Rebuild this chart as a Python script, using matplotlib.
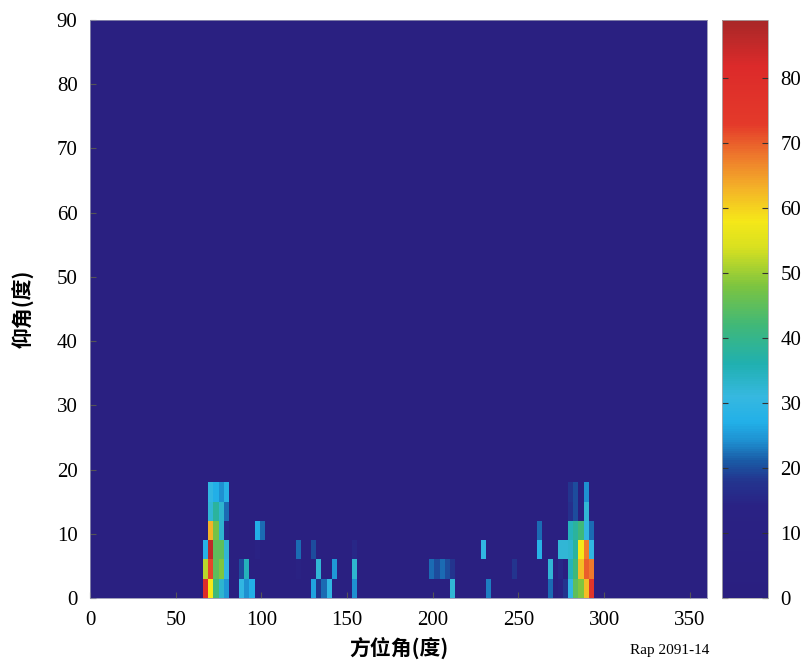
import numpy as np
import matplotlib
matplotlib.use('Agg')
import matplotlib.pyplot as plt
from matplotlib.colors import LinearSegmentedColormap

plt.rcParams['font.family'] = ['Liberation Serif', 'Noto Sans CJK SC']

# --- data: 3 degree bins in azimuth and elevation ---
AZ_STEP = 3
EL_STEP = 3
BACKGROUND = 4

# hot cells: (azimuth bin start, elevation bin start, value)
cell_az = [
    66, 69, 72, 75, 78,
    66, 69, 72, 75, 78,
    66, 69, 72, 75, 78,
    69, 72, 75, 78,
    69, 72, 75, 78,
    69, 72, 75, 78,
    87, 90, 93, 87, 90, 96, 99, 96,
    120, 120, 129, 129, 132, 132, 135, 138, 141, 153, 153, 153,
    198, 201, 204, 207, 210, 210, 228, 231, 246, 261, 261, 267, 267,
    273, 276, 279, 282, 285, 288, 291,
    273, 279, 282, 285, 288, 291,
    273, 276, 279, 282, 285, 288, 291,
    279, 282, 285, 288, 291,
    279, 282, 288,
    279, 282, 288,
]
cell_el = [
    0, 0, 0, 0, 0,
    3, 3, 3, 3, 3,
    6, 6, 6, 6, 6,
    9, 9, 9, 9,
    12, 12, 12, 12,
    15, 15, 15, 15,
    0, 0, 0, 3, 3, 9, 9, 6,
    6, 3, 6, 0, 3, 0, 0, 0, 3, 3, 0, 6,
    3, 3, 3, 3, 0, 3, 6, 0, 3, 6, 9, 3, 0,
    0, 0, 0, 0, 0, 0, 0,
    3, 3, 3, 3, 3, 3,
    6, 6, 6, 6, 6, 6, 6,
    9, 9, 9, 9, 9,
    12, 12, 12,
    15, 15, 15,
]
cell_val = [
    80, 58, 42, 33, 25,
    52, 72, 45, 48, 30,
    28, 86, 45, 45, 32,
    63, 47, 33, 15,
    32, 38, 33, 22,
    30, 27, 24, 28,
    30, 24, 27, 20, 35, 27, 22, 14,
    22, 12, 20, 26, 32, 18, 22, 30, 25, 33, 24, 15,
    22, 20, 22, 20, 32, 18, 30, 23, 18, 28, 22, 32, 22,
    14, 18, 30, 45, 48, 62, 76,
    15, 35, 42, 62, 70, 68,
    32, 32, 33, 38, 58, 68, 30,
    35, 38, 42, 30, 22,
    17, 20, 32,
    18, 20, 24,
]

az_edges = np.arange(0, 360 + AZ_STEP, AZ_STEP)
el_edges = np.arange(0, 90 + EL_STEP, EL_STEP)
grid = np.full((len(el_edges) - 1, len(az_edges) - 1), float(BACKGROUND))
for a, e, v in zip(cell_az, cell_el, cell_val):
    grid[e // EL_STEP, a // AZ_STEP] = v

# colour scale as printed in the reference
stops = [
    (0, '#2a1f80'), (14, '#2a2284'), (18, '#23358f'), (21, '#1a5aa5'),
    (24, '#1e8fd0'), (27, '#22b0e8'), (31, '#36b8e0'), (36, '#20b0b0'),
    (42, '#40b878'), (48, '#7cc440'), (54, '#d8e020'), (58, '#f5e818'),
    (63, '#f4b428'), (68, '#ee7a2c'), (73, '#e43a2a'), (82, '#dc2a2a'),
    (89, '#a82828'),
]
VMAX = 89
cmap = LinearSegmentedColormap.from_list('scan_jet', [(v / VMAX, c) for v, c in stops])

fig = plt.figure(figsize=(8.08, 6.66), dpi=100)
ax = fig.add_axes([0.1114, 0.1021, 0.7636, 0.8679])
cax = fig.add_axes([0.8936, 0.1021, 0.057, 0.8679])

mesh = ax.pcolormesh(az_edges, el_edges, grid, cmap=cmap, vmin=0, vmax=VMAX, shading='flat')
ax.set_xlim(0, 360)
ax.set_ylim(0, 90)
ax.set_xticks(np.arange(0, 351, 50))
ax.set_yticks(np.arange(0, 91, 10))
ax.tick_params(direction='in', length=4, labelsize=15, pad=9, color='#555555')
for s in ax.spines.values():
    s.set_color('#9090b0')
    s.set_linewidth(0.6)

cb = fig.colorbar(mesh, cax=cax)
cb.set_ticks(np.arange(0, 81, 10))
cb.ax.tick_params(direction='in', length=4, labelsize=15, pad=9, left=True, right=True, color='#333333')
cb.outline.set_edgecolor('#aaaaaa')
cb.outline.set_linewidth(0.6)

cjk = {'family': 'Noto Sans CJK SC', 'weight': 'bold', 'size': 15}
ax.set_xlabel('方位角(度)', fontdict=cjk, labelpad=5)
ax.set_ylabel('仰角(度)', fontdict=cjk, labelpad=16)
fig.text(0.878, 0.014, 'Rap 2091-14', ha='right', va='bottom', fontsize=11)

fig.savefig('out.png', dpi=100)
